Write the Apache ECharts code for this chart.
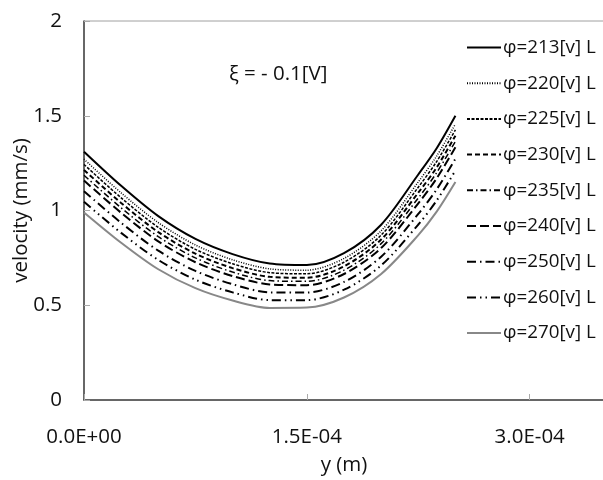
<!DOCTYPE html>
<html>
<head>
<meta charset="utf-8">
<script src="https://cdn.jsdelivr.net/npm/echarts@6/dist/echarts.min.js"></script>
<style>
html,body{margin:0;padding:0;background:#fff;}
#chart{width:603px;height:480px;}
</style>
</head>
<body>
<div id="chart"></div>
<script>
// y positions (m)
var yPositions = [0, 0.25e-4, 0.5e-4, 0.75e-4, 1.0e-4, 1.25e-4, 1.5e-4, 1.75e-4, 2.0e-4, 2.25e-4, 2.375e-4, 2.5e-4];

var seriesNames = ['φ=213[v] L','φ=220[v] L','φ=225[v] L','φ=230[v] L','φ=235[v] L','φ=240[v] L','φ=250[v] L','φ=260[v] L','φ=270[v] L'];

var v213 = [1.310, 1.130, 0.970, 0.850, 0.770, 0.720, 0.712, 0.775, 0.925, 1.190, 1.330, 1.500];
var v220 = [1.271, 1.093, 0.936, 0.818, 0.740, 0.692, 0.685, 0.747, 0.893, 1.151, 1.289, 1.457];
var v225 = [1.243, 1.067, 0.911, 0.795, 0.719, 0.672, 0.666, 0.727, 0.870, 1.123, 1.260, 1.426];
var v230 = [1.214, 1.040, 0.886, 0.772, 0.696, 0.650, 0.645, 0.705, 0.847, 1.094, 1.229, 1.395];
var v235 = [1.186, 1.014, 0.862, 0.750, 0.675, 0.630, 0.626, 0.685, 0.825, 1.066, 1.201, 1.365];
var v240 = [1.158, 0.988, 0.837, 0.727, 0.654, 0.610, 0.606, 0.665, 0.802, 1.038, 1.171, 1.334];
var v250 = [1.102, 0.935, 0.788, 0.681, 0.611, 0.568, 0.567, 0.623, 0.756, 0.982, 1.113, 1.273];
var v260 = [1.046, 0.882, 0.739, 0.635, 0.568, 0.527, 0.527, 0.582, 0.710, 0.926, 1.054, 1.211];
var v270 = [0.990, 0.830, 0.690, 0.590, 0.525, 0.486, 0.488, 0.541, 0.665, 0.870, 0.995, 1.150];

var xTickLabels = ['0.0E+00', '1.5E-04', '3.0E-04'];
var yTickLabels = ['0', '0.5', '1', '1.5', '2'];

var allValues = [v213, v220, v225, v230, v235, v240, v250, v260, v270];

var styles = [
  {color:'#000', width:2, type:'solid'},
  {color:'#000', width:1.5, type:[1,1.5]},
  {color:'#000', width:1.5, type:[3,1.5]},
  {color:'#000', width:2, type:[5,3]},
  {color:'#000', width:1.5, type:[6,3,1.5,3]},
  {color:'#000', width:2, type:[9,4]},
  {color:'#000', width:2, type:[9,4,1.5,4]},
  {color:'#000', width:2, type:[9,4,1.5,4,1.5,4]},
  {color:'#888', width:2, type:'solid'}
];

var FONT = 'Open Sans';
var FS = 20.5;

var series = allValues.map(function(vals, i){
  return {
    name: seriesNames[i],
    type: 'line',
    smooth: 0.3,
    symbol: 'none',
    silent: true,
    z: 10 - i,
    lineStyle: {color: styles[i].color, width: styles[i].width, type: styles[i].type},
    itemStyle: {color: styles[i].color},
    data: yPositions.map(function(x, k){ return [x, vals[k]]; })
  };
});

var chart = echarts.init(document.getElementById('chart'), null, {renderer:'canvas'});
chart.setOption({
  animation: false,
  backgroundColor: '#fff',
  grid: {left: 84, top: 21, right: -1, bottom: 80, outerBoundsMode: 'none', containLabel: false,
         show: true, borderColor: '#a0a0a0', borderWidth: 1, backgroundColor: 'transparent'},
  xAxis: {
    type: 'value', min: 0, max: 3.5e-4, interval: 1.5e-4,
    name: 'y (m)', nameLocation: 'middle', nameGap: 55, nameMoveOverlap: false,
    nameTextStyle: {fontFamily: FONT, fontSize: FS, color: '#111'},
    axisLine: {show: true, onZero: false, lineStyle: {color: '#444', width: 1.5}},
    axisTick: {show: true, inside: true, length: 6, lineStyle: {color: '#aaa'}},
    splitLine: {show: false},
    axisLabel: {
      fontFamily: FONT, fontSize: FS, color: '#111', margin: 27, showMaxLabel: false,
      formatter: function(v){
        var idx = Math.round(v / 1.5e-4);
        if (Math.abs(v - idx * 1.5e-4) > 1e-9) return '';
        return xTickLabels[idx] || '';
      }
    }
  },
  yAxis: {
    type: 'value', min: 0, max: 2, interval: 0.5,
    name: 'velocity (mm/s)', nameLocation: 'middle', nameGap: 52, nameMoveOverlap: false,
    nameTextStyle: {fontFamily: FONT, fontSize: FS, color: '#111'},
    axisLine: {show: true, lineStyle: {color: '#444', width: 1.5}},
    axisTick: {show: true, inside: true, length: 6, lineStyle: {color: '#aaa'}},
    splitLine: {show: false},
    axisLabel: {
      fontFamily: FONT, fontSize: FS, color: '#111', margin: 22,
      formatter: function(v){ return yTickLabels[Math.round(v / 0.5)]; }
    }
  },
  legend: {
    orient: 'vertical', left: 461, top: 33,
    itemWidth: 34, itemHeight: 14, itemGap: 16.7,
    itemStyle: {opacity: 0},
    textStyle: {fontFamily: FONT, fontSize: 18.8, color: '#111', padding: [0,0,0,-3]},
    data: seriesNames
  },
  graphic: [{
    type: 'text', left: 229, top: 64,
    style: {text: 'ξ = - 0.1[V]', font: FS + 'px "Open Sans"', fill: '#111'}
  }],
  series: series
});
</script>
</body>
</html>
